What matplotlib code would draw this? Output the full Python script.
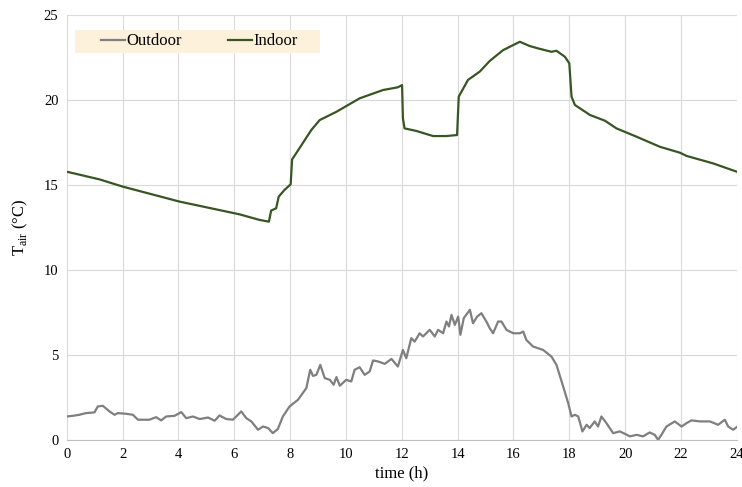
import matplotlib
matplotlib.use("Agg")
import matplotlib.pyplot as plt
from matplotlib.patches import Rectangle

plt.rcParams['font.family'] = ['Liberation Serif', 'DejaVu Serif']

# outdoor air temperature
t_out = [0, 0.22, 0.45, 0.69, 0.99, 1.11, 1.29, 1.53, 1.71, 1.83, 2.13, 2.37, 2.55, 2.96,
         3.2, 3.38, 3.56, 3.86, 4.1, 4.28, 4.52, 4.76, 5.06, 5.3, 5.47, 5.71, 5.95, 6.07,
         6.25, 6.43, 6.61, 6.85, 7.03, 7.21, 7.38, 7.56, 7.74, 7.98, 8.28, 8.58, 8.72, 8.82,
         8.94, 9.08, 9.24, 9.42, 9.56, 9.66, 9.78, 10.01, 10.19, 10.31, 10.49, 10.67, 10.85,
         10.97, 11.15, 11.39, 11.63, 11.86, 12.04, 12.16, 12.34, 12.46, 12.64, 12.76, 13.0,
         13.18, 13.3, 13.48, 13.6, 13.69, 13.78, 13.9, 14.02, 14.1, 14.22, 14.44, 14.55,
         14.7, 14.85, 15.03, 15.15, 15.27, 15.45, 15.57, 15.75, 15.99, 16.23, 16.35, 16.46,
         16.7, 17.06, 17.36, 17.54, 17.78, 17.96, 18.08, 18.2, 18.32, 18.47, 18.62, 18.73,
         18.91, 19.03, 19.15, 19.33, 19.57, 19.81, 19.99, 20.17, 20.41, 20.64, 20.88, 21.06,
         21.18, 21.3, 21.48, 21.78, 22.02, 22.2, 22.38, 22.68, 23.04, 23.33, 23.57, 23.69,
         23.87, 24.0]
T_out = [1.37, 1.41, 1.47, 1.57, 1.61, 1.96, 2.0, 1.67, 1.47, 1.57, 1.53, 1.47, 1.18, 1.18,
         1.33, 1.14, 1.37, 1.41, 1.63, 1.27, 1.37, 1.22, 1.31, 1.12, 1.43, 1.22, 1.18, 1.37,
         1.67, 1.27, 1.08, 0.59, 0.78, 0.69, 0.39, 0.63, 1.37, 1.96, 2.35, 3.04, 4.12, 3.76,
         3.82, 4.41, 3.63, 3.53, 3.24, 3.69, 3.18, 3.53, 3.43, 4.12, 4.27, 3.82, 4.02,
         4.67, 4.61, 4.47, 4.76, 4.31, 5.29, 4.8, 5.98, 5.78, 6.27, 6.08, 6.47,
         6.08, 6.47, 6.27, 6.96, 6.67, 7.35, 6.76, 7.25, 6.18, 7.16, 7.65, 6.86,
         7.25, 7.45, 6.96, 6.57, 6.27, 6.96, 6.96, 6.47, 6.27, 6.27, 6.37, 5.88,
         5.49, 5.29, 4.9, 4.41, 3.14, 2.16, 1.37, 1.47, 1.37, 0.49, 0.88, 0.69,
         1.08, 0.78, 1.37, 0.98, 0.39, 0.49, 0.35, 0.2, 0.29, 0.2, 0.43, 0.29,
         0.0, 0.29, 0.78, 1.08, 0.78, 0.98, 1.14, 1.08, 1.08, 0.88, 1.18, 0.78,
         0.59, 0.75]

# indoor air temperature
t_in = [0, 1.17, 2.01, 4.04, 6.19, 6.91, 7.24, 7.32, 7.5, 7.59, 7.8, 8.02, 8.07, 8.35,
        8.76, 9.06, 9.66, 10.49, 11.33, 11.86, 12.01, 12.04, 12.1, 12.52, 13.12, 13.6,
        13.98, 14.04, 14.37, 14.79, 15.15, 15.63, 16.23, 16.58, 16.88, 17.36, 17.54, 17.84,
        18.0, 18.08, 18.2, 18.74, 19.28, 19.69, 20.41, 21.24, 21.96, 22.2, 23.15, 24.0]
T_in = [15.78, 15.33, 14.9, 14.02, 13.27, 12.94, 12.84, 13.49, 13.63, 14.31, 14.71, 15.04,
        16.5, 17.2, 18.24, 18.82, 19.31, 20.1, 20.59, 20.75, 20.88, 18.92, 18.33, 18.18,
        17.88, 17.88, 17.94, 20.2, 21.18, 21.67, 22.3, 22.94, 23.43, 23.18, 23.04, 22.84,
        22.9, 22.55, 22.16, 20.2, 19.71, 19.12, 18.78, 18.33, 17.84, 17.25, 16.9, 16.71,
        16.27, 15.78]

fig, ax = plt.subplots(figsize=(7.42, 4.87), dpi=100)
fig.subplots_adjust(left=0.09, right=0.993, bottom=0.097, top=0.969)

ax.plot(t_out, T_out, color='#7f7f7f', lw=1.6, label='Outdoor')
ax.plot(t_in, T_in, color='#375623', lw=1.6, label='Indoor')

ax.set_xlim(0, 24)
ax.set_ylim(0, 25)
ax.set_xticks(range(0, 25, 2))
ax.set_yticks(range(0, 26, 5))
ax.grid(color='#d9d9d9', lw=0.8)
ax.set_axisbelow(True)
for s in ['top', 'right', 'left']:
    ax.spines[s].set_visible(False)
ax.spines['bottom'].set_color('#bfbfbf')
ax.tick_params(length=0, labelsize=10.5, pad=6)

ax.set_xlabel('time (h)', fontsize=12, labelpad=3)
ax.set_ylabel(r'T$_\mathregular{air}$ (°C)', fontsize=12, labelpad=10)

# cream legend band like the original
ax.add_patch(Rectangle((0.012, 0.911), 0.366, 0.055, transform=ax.transAxes,
                       facecolor='#fdf1dc', edgecolor='none', zorder=3))
leg = ax.legend(loc='center', ncol=2, bbox_to_anchor=(0.198, 0.938), frameon=False,
                fontsize=12, handlelength=1.4, handletextpad=0.1, columnspacing=2.8)
leg.set_zorder(4)

fig.savefig('out.png')
